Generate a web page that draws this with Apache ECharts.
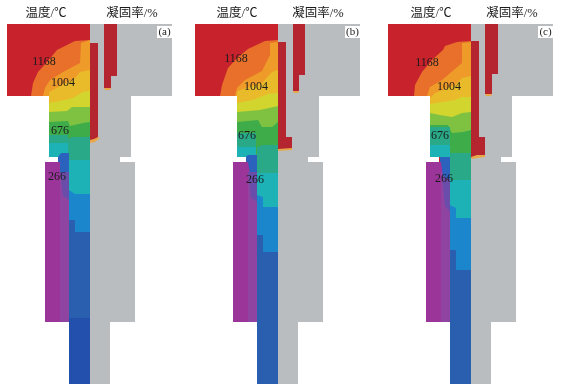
<!DOCTYPE html>
<html><head><meta charset="utf-8">
<script src="https://cdn.jsdelivr.net/npm/echarts@6/dist/echarts.min.js"></script>
<style>html,body{margin:0;padding:0;background:#fff}#c{width:561px;height:390px}</style></head>
<body><div id="c"></div>
<script>
// Shared casting outline (axis units)
const tempOutline=[[7,24],[90,24],[90,384],[69,384],[69,322],[45,322],[45,162],[58,162],[58,157],[49,157],[49,96],[7,96]];
const solidOutline=[[90,24],[172,24],[172,96],[131,96],[131,157],[120,157],[120,162],[135,162],[135,322],[110,322],[110,384],[90,384]];
const purpleBody=[[45,162],[69,162],[69,322],[45,322]];
const purpleStrip=[[60,172],[69,172],[69,322],[60,322]];
const headerTexts=['温度/℃','凝固率/%'];
const isoLabels=['1168','1004','676','266'];
const panelLetters=['(a)','(b)','(c)'];

// Panel a
const aOrange=[[31,96],[33,83],[38,72],[47,62],[57,50],[75,41],[90,40]];
const aAmber=[[43,96],[45,88],[50,80],[63,72],[80,63],[81,43],[90,40]];
const aGold=[[49,92],[62,85],[75,78],[80,72],[90,70]];
const aYellow=[[49,103],[60,101],[73,98],[83,92],[90,91]];
const aLime=[[49,112],[67,111],[72,107],[90,107]];
const aGreen=[[49,122],[68,121],[70,126],[83,123],[90,122]];
const aMintLeft=[[49,135],[68,135],[68,157],[49,157]];
const aTealLeft=[[49,143],[68,143],[68,157],[49,157]];
const aMint=[[68,139],[72,137],[90,137],[90,164],[68,164]];
const aTeal=[[69,160],[90,160],[90,196],[69,196]];
const aSky=[[69,190],[75,194],[90,194],[90,232],[75,232],[75,220],[69,220]];
const aBlue=[[69,220],[75,220],[75,232],[90,232],[90,384],[69,384]];
const aNavy=[[69,318],[90,318],[90,384],[69,384]];
const aCold=[[58,157],[61,153],[69,153],[69,173],[60,173],[60,162],[58,162]];
const aIndigo=[[60,172],[69,172],[69,200],[63,196]];
const aSolidMain=[[90,43],[98,43],[98,137],[96,139],[93,140],[90,141]];
const aSolidUpper=[[104,24],[117,24],[117,76],[111,76],[111,88],[104,88]];
const aTipMain=[[90,140],[94,139],[98,137],[100,138],[95,142],[90,143]];
const aTipUpper=[[104,88],[111,88],[110,90],[105,90]];

// Panel b
const bOrange=[[32,96],[34,85],[40,68],[49,58],[60,49],[77,41],[90,40]];
const bAmber=[[47,96],[49,88],[57,80],[74,71],[82,55],[82,43],[90,42]];
const bGold=[[49,92],[52,90],[74,83],[84,72],[90,70]];
const bYellow=[[49,103],[65,100],[80,94],[90,93]];
const bLime=[[49,112],[72,110],[90,106]];
const bGreen=[[49,122],[70,120],[74,127],[84,127],[90,122]];
const bMintLeft=[[49,133],[68,133],[68,157],[49,157]];
const bTealLeft=[[49,147],[68,147],[68,157],[49,157]];
const bMint=[[69,147],[75,145],[90,145],[90,174],[69,174]];
const bTeal=[[69,173],[90,173],[90,207],[75,207],[75,197],[69,197]];
const bSky=[[69,195],[75,197],[75,207],[90,207],[90,252],[75,252],[75,235],[69,235]];
const bBlue=[[69,235],[75,235],[75,252],[90,252],[90,384],[69,384]];
const bCold=[[58,157],[60,155],[69,155],[69,176],[62,173],[60,162],[58,162]];
const bIndigo=[[60,172],[69,172],[69,202],[63,198]];
const bSolidMain=[[90,42],[98,42],[98,137],[104,137],[104,149],[97,149],[90,150]];
const bSolidUpper=[[105,24],[117,24],[117,75],[111,75],[111,91],[105,91]];
const bTipMain=[[90,149],[104,148],[104,150],[90,151]];
const bTipUpper=[[105,91],[111,91],[110,93],[106,93]];

// Panel c
const cOrange=[[33,96],[34,85],[41,72],[51,60],[62,50],[64,46],[76,42],[90,41]];
const cAmber=[[46,96],[49,87],[61,80],[81,63],[81,43],[90,42]];
const cGold=[[49,98],[54,93],[74,85],[81,78],[90,76]];
const cYellow=[[49,104],[74,100],[81,97],[90,97]];
const cLime=[[49,113],[59,115],[71,117],[81,113],[90,112]];
const cGreen=[[49,125],[67,125],[71,133],[82,132],[90,130]];
const cMintLeft=[[49,127],[69,127],[69,157],[49,157]];
const cTealLeft=[[49,145],[69,145],[69,157],[49,157]];
const cMint=[[69,153],[90,153],[90,181],[69,181]];
const cTeal=[[69,180],[90,180],[90,218],[75,218],[75,208],[69,208]];
const cSky=[[69,205],[75,208],[75,218],[90,218],[90,270],[75,270],[75,250],[69,250]];
const cBlue=[[69,250],[75,250],[75,270],[90,270],[90,384],[69,384]];
const cCold=[[59,157],[69,157],[69,180],[62,176],[60,162],[59,162]];
const cIndigo=[[61,176],[69,180],[69,212],[64,206]];
const cSolidMain=[[90,41],[98,41],[98,137],[104,137],[104,155],[96,156],[90,158]];
const cSolidUpper=[[104,24],[117,24],[117,74],[111,74],[111,94],[104,94]];
const cTipMain=[[90,157],[96,155],[104,155],[104,157],[96,158],[91,159]];
const cTipUpper=[[104,94],[111,94],[110,96],[105,96]];

const RED='#c8232d',ORANGE='#e8702b',AMBER='#ee9b29',GOLD='#e9bb2b',YELLOW='#d3d52f',LIME='#7fc241',GREEN='#3fac4a',
      MINT='#29a987',TEAL='#1db3b6',SKY='#1b86cc',BLUE='#2a5fb0',NAVY='#2450ad',PURPLE='#9b359a',PLUM='#9044a2',INDIGO='#6a4dab',COLD='#2a62bd',
      GRAY='#babdc0',SOLID='#b5252f',TIP='#e8a84a';

function band(curve){ // fill from an isotherm down the neck
  const f=[...curve,[90,157],[49,157]];
  if(curve[0][0]<49) f.push([49,96]);
  return f;
}
function layers(o,am,go,ye,li,gr,mintL,tealL,mint,teal,sky,blue,cold,indigo,main,upper,tipM,tipU){
  return [
    [solidOutline,GRAY],[tempOutline,RED],
    [band(o),ORANGE],[band(am),AMBER],[band(go),GOLD],[band(ye),YELLOW],[band(li),LIME],[band(gr),GREEN],
    [mintL,MINT],[tealL,TEAL],[mint,MINT],[teal,TEAL],
    [purpleBody,PURPLE],[purpleStrip,PLUM],[sky,SKY],[blue,BLUE],[cold,COLD],[indigo,INDIGO],
    [main,SOLID],[upper,SOLID],[tipM,TIP],[tipU,TIP]
  ];
}
const polysA=layers(aOrange,aAmber,aGold,aYellow,aLime,aGreen,aMintLeft,aTealLeft,aMint,aTeal,aSky,aBlue,aCold,aIndigo,aSolidMain,aSolidUpper,aTipMain,aTipUpper);
polysA.splice(polysA.length-6,0,[aNavy,NAVY]);
const polysB=layers(bOrange,bAmber,bGold,bYellow,bLime,bGreen,bMintLeft,bTealLeft,bMint,bTeal,bSky,bBlue,bCold,bIndigo,bSolidMain,bSolidUpper,bTipMain,bTipUpper);
const polysC=layers(cOrange,cAmber,cGold,cYellow,cLime,cGreen,cMintLeft,cTealLeft,cMint,cTeal,cSky,cBlue,cCold,cIndigo,cSolidMain,cSolidUpper,cTipMain,cTipUpper);

const textsA=[[46,14,headerTexts[0],12.5],[132,14,headerTexts[1],12.5],[44,62,isoLabels[0],12],[63,83,isoLabels[1],12],[60,131,isoLabels[2],12],[57,177,isoLabels[3],12]];
const textsB=[[49,14,headerTexts[0],12.5],[130,14,headerTexts[1],12.5],[48,59,isoLabels[0],12],[68,87,isoLabels[1],12],[59,136,isoLabels[2],12],[67,180,isoLabels[3],12]];
const textsC=[[50,14,headerTexts[0],12.5],[131,14,headerTexts[1],12.5],[46,63,isoLabels[0],12],[68,87,isoLabels[1],12],[59,136,isoLabels[2],12],[63,179,isoLabels[3],12]];
const letterBox=[[157,26],[172,26],[172,38],[157,38]];

const lefts=[0,188,381];
const panels=[[polysA,textsA],[polysB,textsB],[polysC,textsC]];
const grid=[],xAxis=[],yAxis=[],series=[];
panels.forEach(([polys,texts],i)=>{
  grid.push({left:lefts[i],top:0,width:180,height:390});
  xAxis.push({type:'value',gridIndex:i,min:0,max:180,show:false});
  yAxis.push({type:'value',gridIndex:i,min:0,max:390,inverse:true,show:false});
  series.push({type:'custom',xAxisIndex:i,yAxisIndex:i,silent:true,clip:false,animation:false,
    data:polys.map((p,k)=>[k]),
    renderItem:(params,api)=>({type:'polygon',
      shape:{points:polys[params.dataIndex][0].map(p=>api.coord(p))},
      style:{fill:polys[params.dataIndex][1]}})});
  series.push({type:'custom',xAxisIndex:i,yAxisIndex:i,silent:true,clip:false,animation:false,z:5,
    data:[[0]],
    renderItem:(params,api)=>({type:'polygon',shape:{points:letterBox.map(p=>api.coord(p))},style:{fill:'#fff'}})});
  series.push({type:'custom',xAxisIndex:i,yAxisIndex:i,silent:true,clip:false,animation:false,z:6,
    data:texts.map(t=>[t[0],t[1]]),
    renderItem:(params,api)=>{const t=texts[params.dataIndex],c=api.coord([t[0],t[1]]);
      return {type:'text',x:c[0],y:c[1],style:{text:t[2],fontSize:t[3],fontFamily:'"Liberation Serif","Noto Sans CJK SC",serif',fill:'#1a1a1a',align:'center',verticalAlign:'middle'}};}});
  series.push({type:'custom',xAxisIndex:i,yAxisIndex:i,silent:true,clip:false,animation:false,z:6,
    data:[[164.5,32]],
    renderItem:(params,api)=>{const c=api.coord([164.5,32]);
      return {type:'text',x:c[0],y:c[1],style:{text:panelLetters[i],fontSize:11,fontFamily:'"Liberation Serif",serif',fill:'#222',align:'center',verticalAlign:'middle'}};}});
});
const chart=echarts.init(document.getElementById('c'),null,{renderer:'canvas'});
chart.setOption({animation:false,backgroundColor:'#fff',grid,xAxis,yAxis,series});
</script></body></html>
